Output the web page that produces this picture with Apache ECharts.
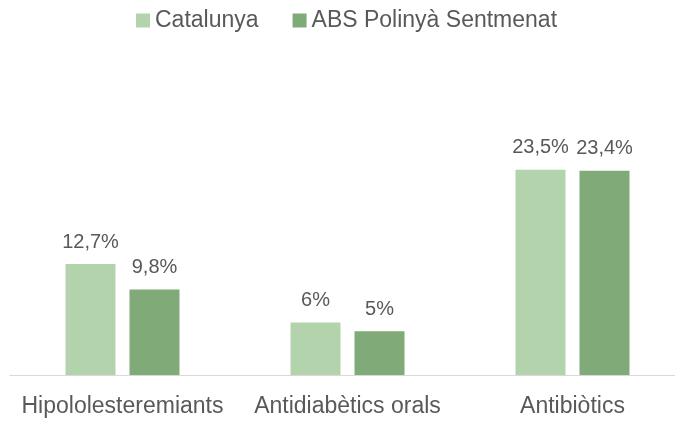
<!DOCTYPE html>
<html>
<head>
<meta charset="utf-8">
<script src="https://cdn.jsdelivr.net/npm/echarts@6/dist/echarts.min.js"></script>
<style>html,body{margin:0;padding:0;background:#fff;overflow:hidden;width:675px;height:422px}#c{width:685px;height:422px}</style>
</head>
<body>
<div id="c"></div>
<script>
var categories = ["Hipololesteremiants", "Antidiabètics orals", "Antibiòtics"];
var catalunya = [12.7, 6, 23.5];
var abs = [9.8, 5, 23.4];
var seriesNames = ["Catalunya", "ABS Polinyà Sentmenat"];

var chart = echarts.init(document.getElementById('c'), null, {renderer: 'canvas'});
function fmt(p) { return String(p.value).replace('.', ',') + '%'; }
var font = 'Liberation Sans, Arial, sans-serif';
chart.setOption({
  animation: false,
  legend: {
    left: 131, top: 4,
    itemWidth: 14, itemHeight: 14, itemGap: 34,
    icon: 'rect',
    textStyle: { color: '#595959', fontSize: 23, fontFamily: font },
    data: seriesNames
  },
  grid: { left: 10, right: 0, top: 113, bottom: 47 },
  xAxis: {
    type: 'category', data: categories,
    axisLine: { lineStyle: { color: '#d9d9d9', width: 1 } },
    axisTick: { show: false },
    axisLabel: { color: '#595959', fontSize: 23, fontFamily: font, margin: 20, interval: 0 }
  },
  yAxis: { type: 'value', min: 0, max: 30, show: false, splitLine: { show: false } },
  series: [
    { name: seriesNames[0], type: 'bar', data: catalunya, barWidth: 50, barGap: '28%',
      itemStyle: { color: '#b3d3ad' },
      label: { show: true, position: 'top', distance: 12, color: '#595959', fontSize: 20, fontFamily: font, formatter: fmt } },
    { name: seriesNames[1], type: 'bar', data: abs, barWidth: 50,
      itemStyle: { color: '#80aa77' },
      label: { show: true, position: 'top', distance: 12, color: '#595959', fontSize: 20, fontFamily: font, formatter: fmt } }
  ]
});
</script>
</body>
</html>
